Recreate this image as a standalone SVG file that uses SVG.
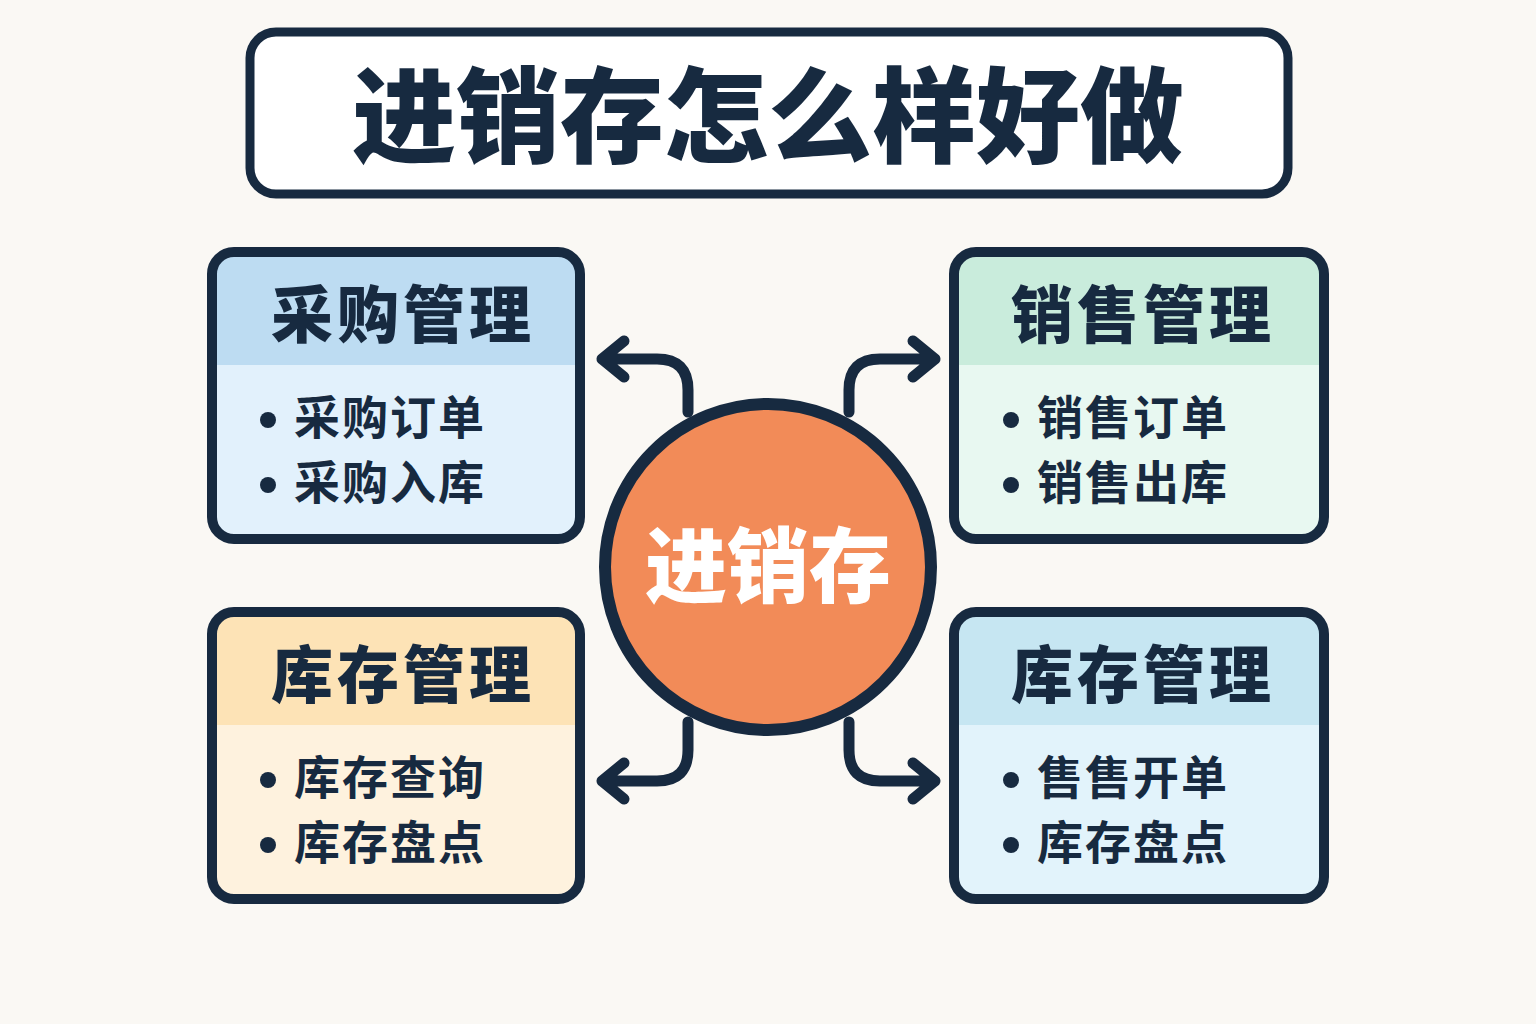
<svg xmlns="http://www.w3.org/2000/svg" width="1536" height="1024" viewBox="0 0 1536 1024">
<style>
.frame{fill:none;stroke:#172a40;stroke-width:10}
.hd{font-family:"Noto Sans CJK SC","Noto Sans",sans-serif;font-weight:900;font-size:62px;fill:#172a40;text-anchor:middle;letter-spacing:4px}
.it{font-family:"Noto Sans CJK SC","Noto Sans",sans-serif;font-weight:700;font-size:46px;fill:#172a40;letter-spacing:2px}
.dot{fill:#172a40}
.conn{fill:none;stroke:#172a40;stroke-width:11;stroke-linecap:round;stroke-linejoin:round}
</style>
<defs>
<clipPath id="c1"><rect x="212" y="252" width="368" height="287" rx="22"/></clipPath>
<clipPath id="c2"><rect x="954" y="252" width="370" height="287" rx="22"/></clipPath>
<clipPath id="c3"><rect x="212" y="612" width="368" height="287" rx="22"/></clipPath>
<clipPath id="c4"><rect x="954" y="612" width="370" height="287" rx="22"/></clipPath>
</defs>
<rect width="1536" height="1024" fill="#faf8f4"/>
<g id="title">
<rect x="250" y="32" width="1038" height="162" rx="26" fill="#ffffff" stroke="#172a40" stroke-width="9"/>
<text x="768" y="155" font-family="'Noto Sans CJK SC','Noto Sans',sans-serif" font-weight="900" font-size="104" fill="#172a40" text-anchor="middle">进销存怎么样好做</text>
</g>
<g id="connectors">
<path class="conn" d="M688 412 V390 Q688 359 657 359 H602 M624 341 L602 359 L624 377"/>
<path class="conn" d="M849 412 V390 Q849 359 880 359 H935 M913 341 L935 359 L913 377"/>
<path class="conn" d="M688 722 V750 Q688 781 657 781 H602 M624 763 L602 781 L624 799"/>
<path class="conn" d="M849 722 V750 Q849 781 880 781 H935 M913 763 L935 781 L913 799"/>
</g>
<g id="purchase">
<g clip-path="url(#c1)">
<rect x="212" y="252" width="368" height="287" fill="#e2f1fc"/>
<rect x="212" y="252" width="368" height="113" fill="#bddcf2"/>
</g>
<rect class="frame" x="212" y="252" width="368" height="287" rx="22"/>
<text class="hd" x="403" y="338">采购管理</text>
<circle class="dot" cx="268" cy="420" r="8"/>
<text class="it" x="294" y="434">采购订单</text>
<circle class="dot" cx="268" cy="485" r="8"/>
<text class="it" x="294" y="499">采购入库</text>
</g>
<g id="sales">
<g clip-path="url(#c2)">
<rect x="954" y="252" width="370" height="287" fill="#e8f8f1"/>
<rect x="954" y="252" width="370" height="113" fill="#c9ecdc"/>
</g>
<rect class="frame" x="954" y="252" width="370" height="287" rx="22"/>
<text class="hd" x="1143" y="338">销售管理</text>
<circle class="dot" cx="1011" cy="420" r="8"/>
<text class="it" x="1037" y="434">销售订单</text>
<circle class="dot" cx="1011" cy="485" r="8"/>
<text class="it" x="1037" y="499">销售出库</text>
</g>
<g id="inventory-left">
<g clip-path="url(#c3)">
<rect x="212" y="612" width="368" height="287" fill="#fef2de"/>
<rect x="212" y="612" width="368" height="113" fill="#fde3b6"/>
</g>
<rect class="frame" x="212" y="612" width="368" height="287" rx="22"/>
<text class="hd" x="403" y="698">库存管理</text>
<circle class="dot" cx="268" cy="780" r="8"/>
<text class="it" x="294" y="794">库存查询</text>
<circle class="dot" cx="268" cy="845" r="8"/>
<text class="it" x="294" y="859">库存盘点</text>
</g>
<g id="inventory-right">
<g clip-path="url(#c4)">
<rect x="954" y="612" width="370" height="287" fill="#e2f3fb"/>
<rect x="954" y="612" width="370" height="113" fill="#c6e6f2"/>
</g>
<rect class="frame" x="954" y="612" width="370" height="287" rx="22"/>
<text class="hd" x="1143" y="698">库存管理</text>
<circle class="dot" cx="1011" cy="780" r="8"/>
<text class="it" x="1037" y="794">售售开单</text>
<circle class="dot" cx="1011" cy="845" r="8"/>
<text class="it" x="1037" y="859">库存盘点</text>
</g>
<g id="center">
<circle cx="768" cy="567" r="163" fill="#f28b58" stroke="#172a40" stroke-width="12"/>
<text x="768" y="596" font-family="'Noto Sans CJK SC','Noto Sans',sans-serif" font-weight="900" font-size="82" fill="#ffffff" text-anchor="middle">进销存</text>
</g>
</svg>
